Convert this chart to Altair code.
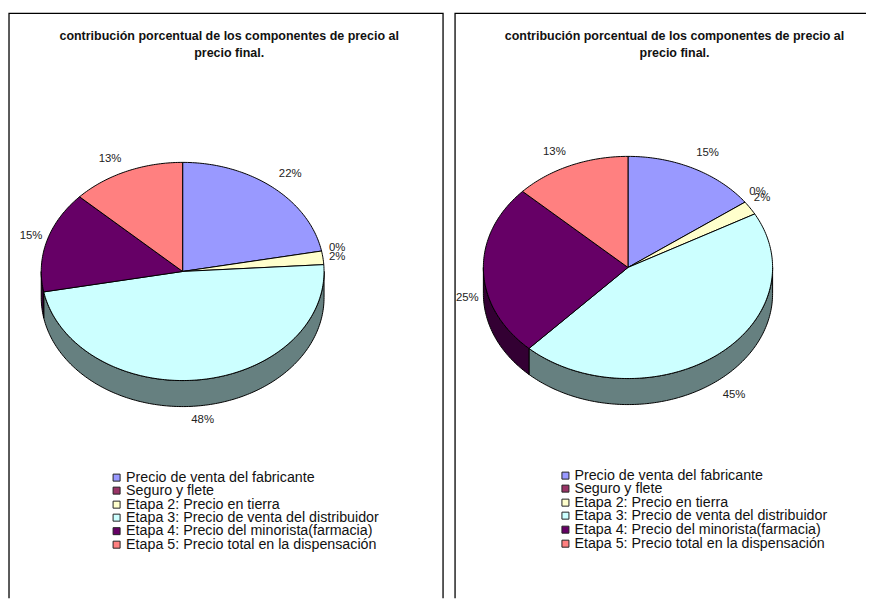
import math
import altair as alt

TITLE_LINES = ["contribución porcentual de los componentes de precio al", "precio final."]
CATEGORIES = [
    "Precio de venta del fabricante",
    "Seguro y flete",
    "Etapa 2: Precio en tierra",
    "Etapa 3: Precio de venta del distribuidor",
    "Etapa 4: Precio del minorista(farmacia)",
    "Etapa 5: Precio total en la dispensación",
]
VALUES_LEFT = [22, 0, 2, 48, 15, 13]
VALUES_RIGHT = [15, 0, 2, 45, 25, 13]
COLORS = ["#9999ff", "#993366", "#ffffcc", "#ccffff", "#660066", "#ff8080"]
WALLS = ["#666699", "#4d1a33", "#808066", "#668080", "#330033", "#804040"]

OX, OY = 8, 8  # page margin


def poly(points, fill, stroke="#000000"):
    ring = [[x - OX, y - OY] for x, y in points]
    ring.append(ring[0])
    return {"type": "Feature",
            "geometry": {"type": "Polygon", "coordinates": [ring]},
            "properties": {"fill": fill, "stroke": stroke}}


def arc_pts(cx, cy, rx, ry, a0, a1, dy=0):
    n = max(2, int(abs(a1 - a0)) + 2)
    out = []
    for i in range(n):
        a = math.radians(a0 + (a1 - a0) * i / (n - 1))
        out.append((cx + rx * math.sin(a), cy - ry * math.cos(a) + dy))
    return out


def panel_features(values, cx, cy, rx, ry, depth):
    walls, tops = [], []
    start = 0.0
    for v, col, wall in zip(values, COLORS, WALLS):
        end = start + v * 3.6
        if v > 0:
            tops.append(poly([(cx, cy)] + arc_pts(cx, cy, rx, ry, start, end), col))
            lo, hi = max(start, 90), min(end, 270)
            if hi > lo:
                front = arc_pts(cx, cy, rx, ry, lo, hi)
                back = arc_pts(cx, cy, rx, ry, hi, lo, depth)
                walls.append(poly(front + back, wall))
        start = end
    return walls, tops


def shapes(features, width=1.0):
    return alt.Chart(alt.Data(values=features)).mark_geoshape(strokeWidth=width).encode(
        fill=alt.Fill("properties.fill:N", scale=None),
        stroke=alt.Stroke("properties.stroke:N", scale=None),
    )


def frame(points):
    coords = [[x - OX, y - OY] for x, y in points]
    feat = {"type": "Feature", "geometry": {"type": "LineString", "coordinates": coords},
            "properties": {}}
    return alt.Chart(alt.Data(values=[feat])).mark_geoshape(
        filled=False, stroke="#000000", strokeWidth=1.3
    )


def texts(rows, **style):
    base = dict(font="Liberation Sans", color="#111111", baseline="middle")
    base.update(style)
    data = [{"t": t, "lon": x - OX, "lat": y - OY} for t, x, y in rows]
    return alt.Chart(alt.Data(values=data)).mark_text(**base).encode(
        longitude="lon:Q", latitude="lat:Q", text="t:N"
    )


def legend(x_sw, x_txt, ys):
    data = [{"c": c, "col": col, "lon": x_sw - OX, "lat": y - OY}
            for c, col, y in zip(CATEGORIES, COLORS, ys)]
    squares = alt.Chart(alt.Data(values=data)).mark_square(
        size=50, opacity=1, stroke="#222222", strokeWidth=1
    ).encode(longitude="lon:Q", latitude="lat:Q",
             fill=alt.Fill("col:N", scale=None)
    )
    labels = texts([(c, x_txt, y) for c, y in zip(CATEGORIES, ys)],
                   fontSize=14.4, align="left", color="#111111")
    return [squares, labels]


def panel(values, geom, title_x, label_pos, x_sw, x_txt, ys):
    walls, tops = panel_features(values, *geom)
    title = texts([(TITLE_LINES[0], title_x, 35.5), (TITLE_LINES[1], title_x, 53)],
                  fontSize=12.6, fontWeight="bold", align="center", color="#111111")
    pct = texts([(f"{v}%", x, y) for v, (x, y) in zip(values, label_pos)],
                fontSize=11.5, align="center", color="#222222")
    return [shapes(walls), shapes(tops), title, pct] + legend(x_sw, x_txt, ys)


left = panel(
    VALUES_LEFT, (183.5, 271, 141.3, 109, 26), 230,
    [(291, 174), (338, 248), (338, 257), (203.5, 419.5), (32, 236), (111, 159)],
    117.5, 127, [477, 490, 504, 517, 530.5, 544],
)
# order of labels in the list follows the slice order
right = panel(
    VALUES_RIGHT, (628.5, 267, 144.5, 111, 26), 675,
    [(708, 153), (758, 192), (762.5, 197.5), (734.5, 394.5), (468, 298), (555, 152)],
    566, 575, [475, 488, 502, 515, 529, 543],
)

frames = [
    frame([(10, 601), (10, 13.2), (443.7, 13.2), (443.7, 601)]),
    frame([(455.7, 601), (455.7, 13.2), (874, 13.2)]),
]

chart = alt.layer(*frames, *left, *right).project(
    type="identity", scale=1.0101, translate=[-1, -2.5]
).properties(
    width=866, height=593, padding=0, autosize=alt.AutoSizeParams(type="none")
).configure_view(stroke=None)

chart.save("out.html", embed_options={"renderer": "svg", "actions": False})
